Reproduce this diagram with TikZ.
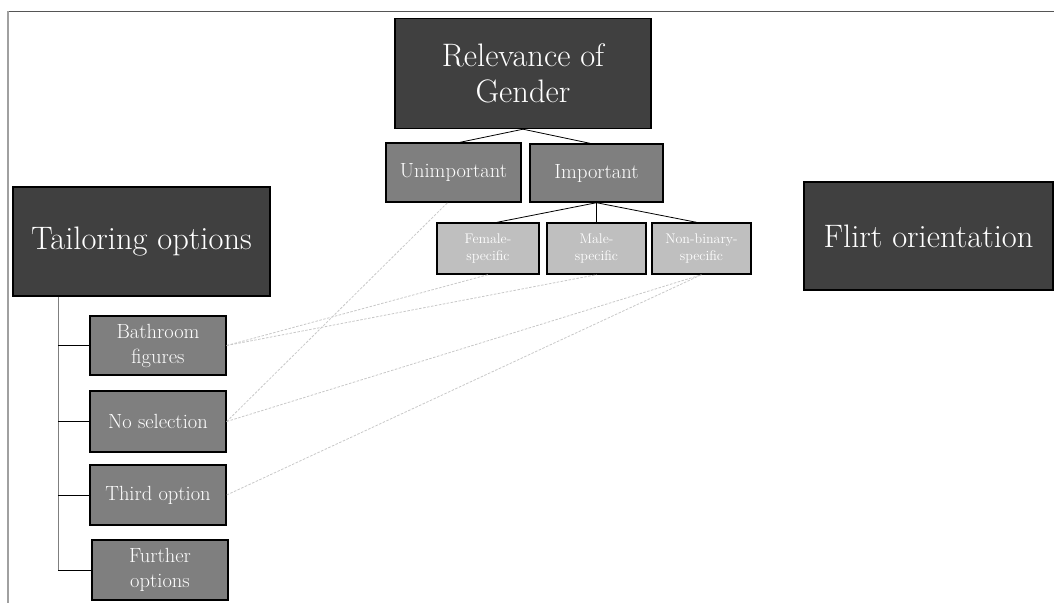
\documentclass[tikz,border=0pt]{standalone}
\usetikzlibrary{calc}
\definecolor{darkbox}{HTML}{404040}
\definecolor{midbox}{HTML}{7F7F7F}
\definecolor{lightbox}{HTML}{BFBFBF}
\definecolor{dashgray}{HTML}{C8C8C8}
\definecolor{topline}{HTML}{555555}
\definecolor{leftline}{HTML}{A0A0A0}
\begin{document}
\begin{tikzpicture}[x=1pt,y=-1pt,
  box/.style={draw=black, line width=1.4pt, text=white, align=center, inner sep=0pt, anchor=center},
  bigbox/.style={box, fill=darkbox, font=\fontsize{32.5}{36}\selectfont},
  midnode/.style={box, fill=midbox, font=\fontsize{20.5}{25}\selectfont},
  smallnode/.style={box, fill=lightbox, font=\fontsize{14}{17.5}\selectfont},
  link/.style={draw=black, line width=0.8pt},
  trunkline/.style={draw=midbox, line width=1pt},
  dashlink/.style={draw=dashgray, line width=0.8pt, dash pattern=on 2.5pt off 1.5pt}
]
\useasboundingbox (0,0) rectangle (1054,603);
% frame lines
\draw[topline, line width=1pt] (8,11) -- (1054,11);
\draw[leftline, line width=1.5pt] (8,11) -- (8,603);

% top tree
\node[bigbox, minimum width=256pt, minimum height=110pt] (rel) at (523,73.5) {Relevance of\\Gender};
\node[midnode, minimum width=135pt, minimum height=59pt] (unimp) at (453.5,172.5) {Unimportant};
\node[midnode, minimum width=133pt, minimum height=58pt] (imp) at (596.5,173) {Important};
\node[smallnode, minimum width=102pt, minimum height=51pt] (fem) at (488,248.5) {Female-\\specific};
\node[smallnode, minimum width=99pt, minimum height=51pt] (male) at (596.5,248.5) {Male-\\specific};
\node[smallnode, minimum width=99pt, minimum height=51pt] (nb) at (701.5,248.5) {Non-binary-\\specific};

\draw[link] (rel.south) -- ([xshift=6.5pt]unimp.north);
\draw[link] (rel.south) -- ([xshift=-6.5pt]imp.north);
\draw[link] (imp.south) -- ([xshift=9pt]fem.north);
\draw[link] (imp.south) -- (male.north);
\draw[link] (imp.south) -- ([xshift=-5pt]nb.north);

% left tree
\node[bigbox, minimum width=257pt, minimum height=109pt] (tail) at (141.5,241.5) {Tailoring options};
\node[midnode, minimum width=136pt, minimum height=59pt] (bath) at (158,345.5) {Bathroom\\figures};
\node[midnode, minimum width=136pt, minimum height=61pt] (nosel) at (158,421.5) {No selection};
\node[midnode, minimum width=136pt, minimum height=60pt] (third) at (158,495) {Third option};
\node[midnode, minimum width=136pt, minimum height=60pt] (further) at (160,570) {Further\\options};

\coordinate (trunktop) at ([xshift=-83.5pt]tail.south);
\coordinate (trunkbot) at (trunktop |- further.west);
\draw[trunkline] (trunktop) -- (trunkbot);
\draw[link] (trunktop |- bath.west) -- (bath.west);
\draw[link] (trunktop |- nosel.west) -- (nosel.west);
\draw[link] (trunktop |- third.west) -- (third.west);
\draw[link] (trunkbot) -- (further.west);

% right node
\node[bigbox, minimum width=249pt, minimum height=108pt] (flirt) at (928.5,236) {Flirt orientation};

% dashed relations
\draw[dashlink] (bath.east) -- (fem.south);
\draw[dashlink] (bath.east) -- (male.south);
\draw[dashlink] (nosel.east) -- ([xshift=-6pt]unimp.south);
\draw[dashlink] (nosel.east) -- (nb.south);
\draw[dashlink] (third.east) -- (nb.south);
\end{tikzpicture}
\end{document}
